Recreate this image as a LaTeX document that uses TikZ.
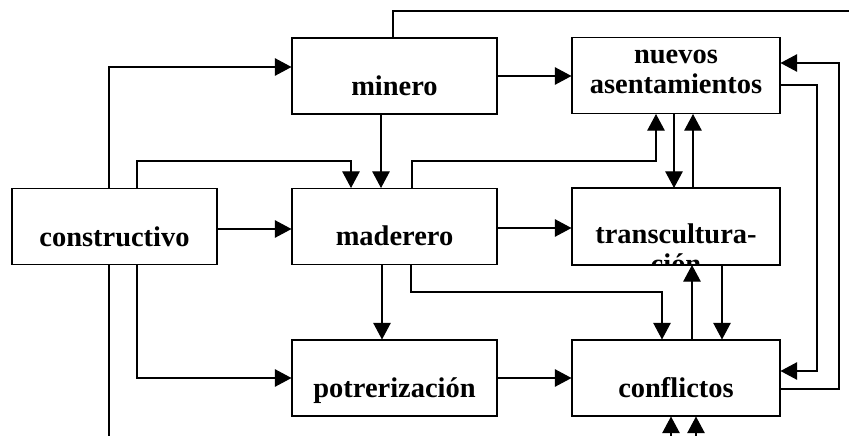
\documentclass[tikz,border=0pt]{standalone}
\usepackage{amsmath}
\usepackage{fontspec}
\setmainfont{Liberation Serif}
\usepackage{tikz}
\usetikzlibrary{arrows.meta}

\begin{document}
\begin{tikzpicture}[x=0.02cm,y=-0.02cm,line width=0.6pt,
    >={Triangle[length=9.5pt,width=10pt]},
    box/.style={draw,fill=white,minimum width=4.1cm,minimum height=1.52cm,inner sep=0pt},
    wbox/.style={box,minimum width=4.16cm},
    txt/.style={anchor=base,inner sep=0pt,font=\fontsize{16.2}{17}\selectfont\bfseries}]
      \useasboundingbox (0,0) rectangle (849,436);
      % boxes
      \node[box] (constructivo) at (114.5,226.5) {};
      \node[box] (minero) at (394.5,76) {};
      \node[box] (maderero) at (394.5,226.5) {};
      \node[box] (potrerizacion) at (394.5,378) {};
      \node[wbox] (nuevos) at (676,75.5) {};
      \node[wbox] (transcultura) at (676,226.5) {};
      \node[wbox] (conflictos) at (676,378) {};
      \node[txt] (t-constructivo) at (114.5,246) {constructivo};
      \node[txt] (t-minero) at (394.5,95) {minero};
      \node[txt] (t-maderero) at (394.5,245) {maderero};
      \node[txt] (t-potrerizacion) at (394.5,397) {potrerización};
      \node[txt] (t-nuevos) at (676,63) {nuevos};
      \node[txt] (t-asentamientos) at (676,93) {asentamientos};
      \node[txt] (t-conflictos) at (676,397) {conflictos};
      \begin{scope}
        \clip (transcultura.north west) rectangle (transcultura.south east);
        \node[txt] (t-transcultura) at (676,243) {transcultura-};
        \node[txt] (t-cion) at (676,273) {ción};
      \end{scope}
      \draw (transcultura.north west) rectangle (transcultura.south east);
      % free ends
      \coordinate (salida) at (849,11);
      \coordinate (abajo) at (109,436);
      \coordinate (entrada1) at (671,436);
      \coordinate (entrada2) at (696,436);
      % horizontal arrows
      \draw[->] (constructivo.east |- 0,229) -- (maderero.west |- 0,229);
      \draw[->] (minero.east) -- (nuevos.west |- minero.east);
      \draw[->] (maderero.east |- 0,228) -- (transcultura.west |- 0,228);
      \draw[->] (potrerizacion.east) -- (conflictos.west);
      % from constructivo
      \draw[->] (constructivo.north -| 109,0) |- (minero.west |- 0,67);
      \draw[->] (constructivo.north -| 137,0) |- (351,161) -- (maderero.north -| 351,0);
      \draw (constructivo.south -| 109,0) -- (abajo);
      \draw[->] (constructivo.south -| 137,0) |- (potrerizacion.west);
      % vertical ones
      \draw (minero.north -| 393,0) |- (salida);
      \draw[->] (minero.south -| 381,0) -- (maderero.north -| 381,0);
      \draw[->] (maderero.south -| 382,0) -- (potrerizacion.north -| 382,0);
      \draw[->] (maderero.north -| 412,0) |- (656,161) -- (nuevos.south -| 656,0);
      \draw[->] (maderero.south -| 411,0) |- (662,292) -- (conflictos.north -| 662,0);
      \draw[->] (nuevos.south -| 674,0) -- (transcultura.north -| 674,0);
      \draw[->] (transcultura.north -| 693,0) -- (nuevos.south -| 693,0);
      \draw[->] (conflictos.north -| 692,0) -- (transcultura.south -| 692,0);
      \draw[->] (transcultura.south -| 722,0) -- (conflictos.north -| 722,0);
      \draw[->] (entrada1) -- (conflictos.south -| entrada1);
      \draw[->] (entrada2) -- (conflictos.south -| entrada2);
      % right loops
      \draw[->] (nuevos.east |- 0,85) -| (817,371) -- (conflictos.east |- 0,371);
      \draw[->] (conflictos.east |- 0,389) -| (839,63) -- (nuevos.east |- 0,63);
    \end{tikzpicture}
\end{document}
